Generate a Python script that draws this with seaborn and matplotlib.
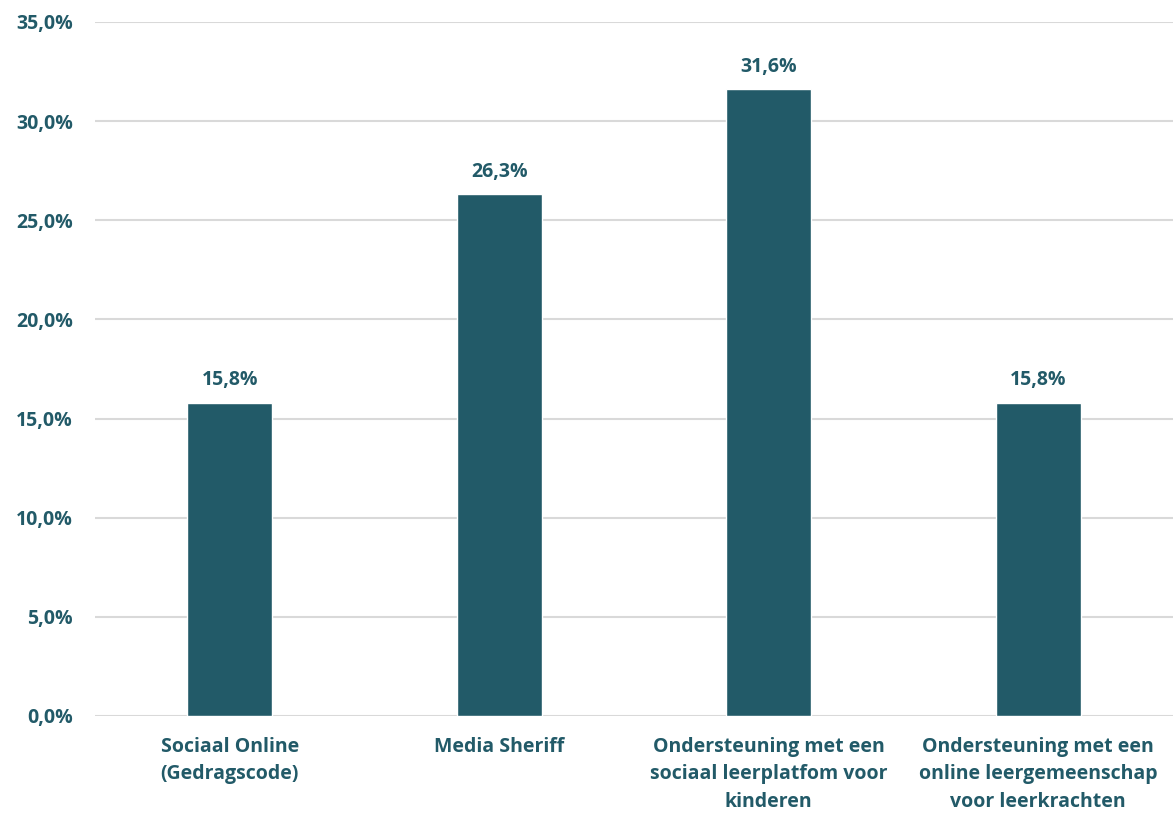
import matplotlib
matplotlib.use("Agg")
import matplotlib.pyplot as plt
import seaborn as sns
import pandas as pd

# data
categories = [
    "Sociaal Online\n(Gedragscode)",
    "Media Sheriff",
    "Ondersteuning met een\nsociaal leerplatfom voor\nkinderen",
    "Ondersteuning met een\nonline leergemeenschap\nvoor leerkrachten",
]
values = [15.8, 26.3, 31.6, 15.8]
y_ticks = [0, 5, 10, 15, 20, 25, 30, 35]

bar_color = "#225A68"
text_color = "#225A68"

sns.set_style("white")
plt.rcParams["font.family"] = ["Open Sans", "DejaVu Sans"]

df = pd.DataFrame({"cat": categories, "val": values})

fig = plt.figure(figsize=(11.73, 8.14), dpi=100)
ax = fig.add_axes([0.081, 0.1204, 0.919, 0.8526])

sns.barplot(data=df, x="cat", y="val", color=bar_color, width=0.315,
            saturation=1, ax=ax, zorder=3)

for container in ax.containers:
    ax.bar_label(container, labels=[f"{v:.1f}%".replace(".", ",") for v in values],
                 padding=9, fontsize=14, fontweight="bold", color=text_color)

ax.set_ylim(0, 35)
ax.set_xlim(-0.5, 3.5)
ax.set_yticks(y_ticks)
ax.set_yticklabels([f"{t:.1f}%".replace(".", ",") for t in y_ticks])
ax.yaxis.grid(True, color="#D9D9D9", linewidth=1.5, zorder=0)
ax.set_axisbelow(True)
for s in ax.spines.values():
    s.set_visible(False)
ax.tick_params(axis="both", length=0, labelsize=14, labelcolor=text_color, pad=16)
ax.tick_params(axis="x", pad=15)
for lab in ax.get_xticklabels() + ax.get_yticklabels():
    lab.set_fontweight("bold")
for lab in ax.get_xticklabels():
    lab.set_linespacing(1.5)
    lab.set_verticalalignment("top")
ax.set_xlabel("")
ax.set_ylabel("")

fig.savefig("out.png", dpi=100)
